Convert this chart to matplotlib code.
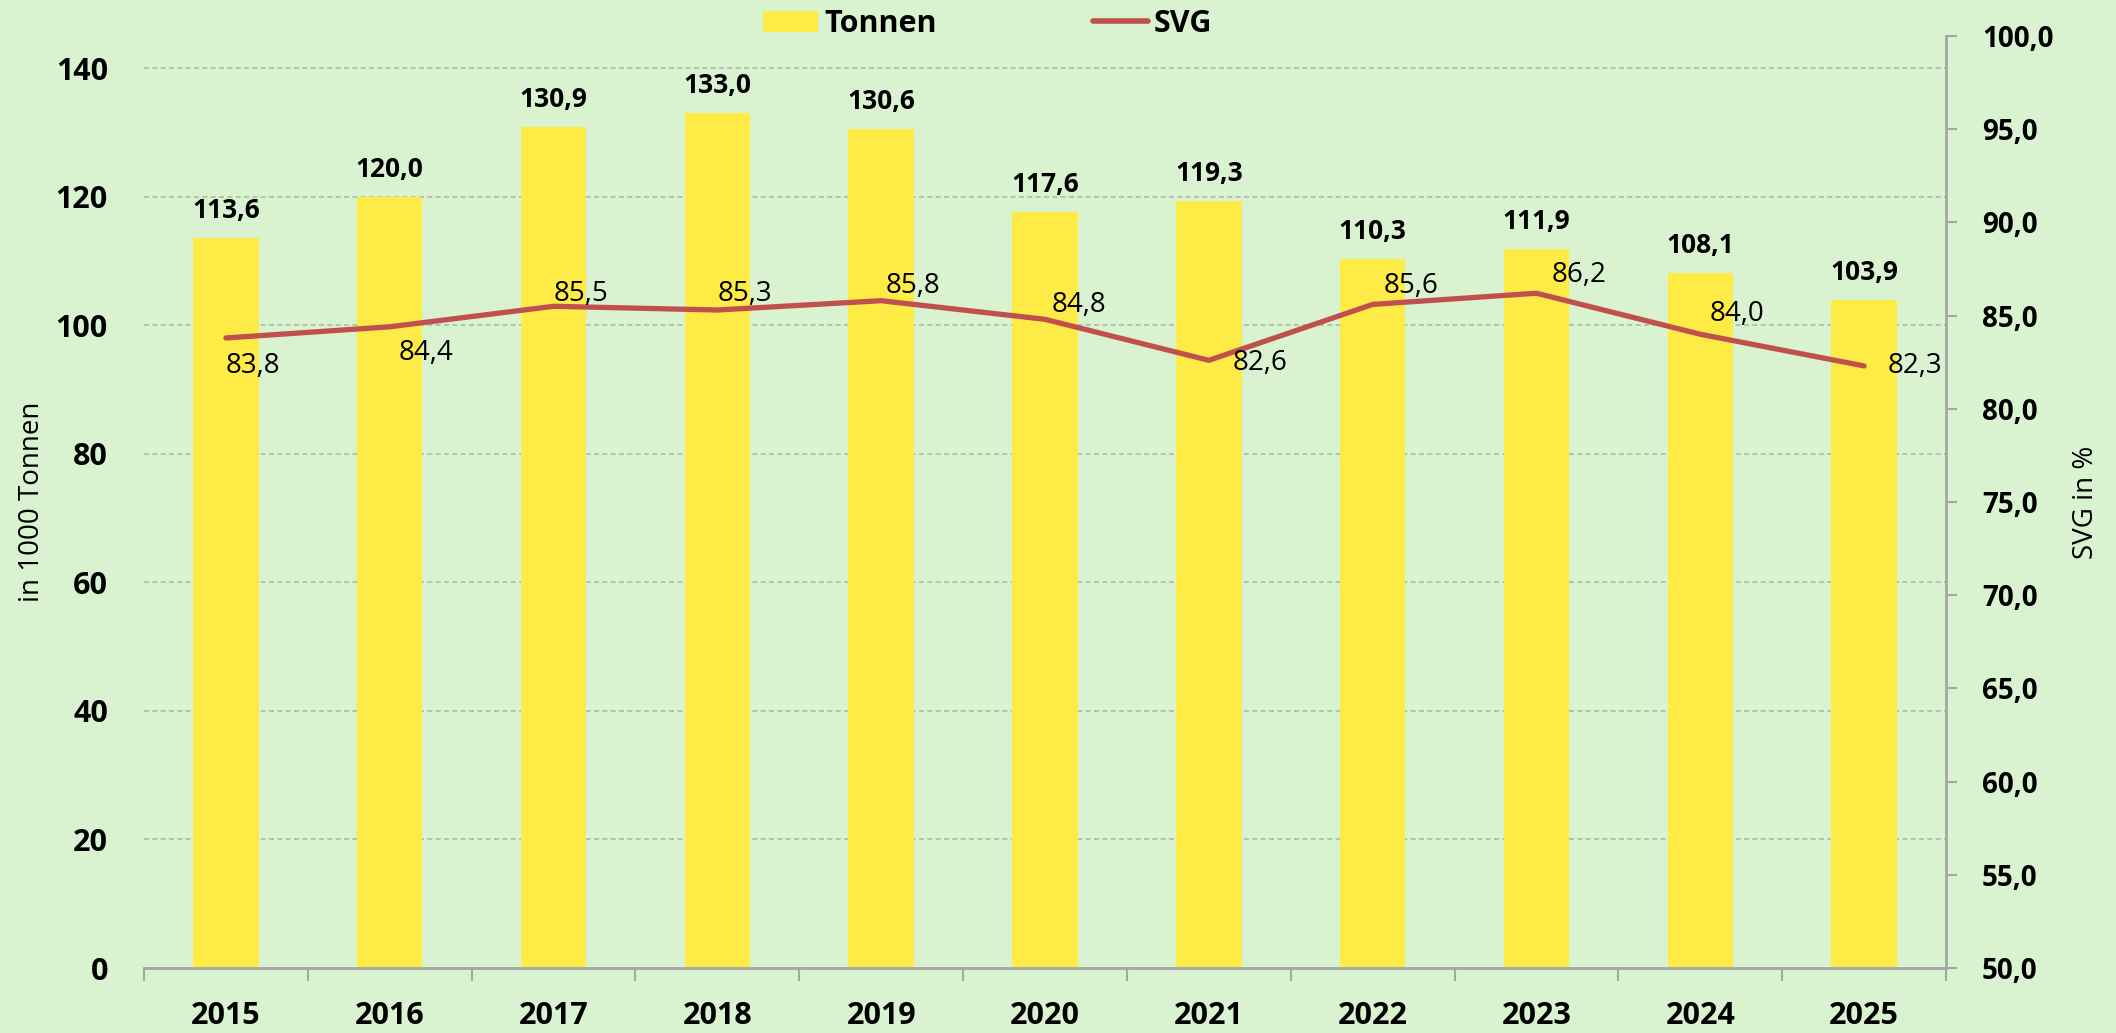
import matplotlib
matplotlib.use("Agg")
import matplotlib.pyplot as plt
from matplotlib.lines import Line2D
from matplotlib.patches import Patch
import numpy as np

plt.rcParams['font.family'] = ['Open Sans', 'DejaVu Sans']

years = ['2015', '2016', '2017', '2018', '2019', '2020', '2021', '2022', '2023', '2024', '2025']
tonnen = [113.6, 120.0, 130.9, 133.0, 130.6, 117.6, 119.3, 110.3, 111.9, 108.1, 103.9]
svg = [83.8, 84.4, 85.5, 85.3, 85.8, 84.8, 82.6, 85.6, 86.2, 84.0, 82.3]
left_ticks = [0, 20, 40, 60, 80, 100, 120, 140]
right_ticks = [50, 55, 60, 65, 70, 75, 80, 85, 90, 95, 100]
# label offsets for the line values (pixels)
svg_offsets = [(0, -28), (9, -26), (0, 12), (0, 16), (4, 15), (7, 14),
               (24, -3), (11, 18), (15, 18), (9, 20), (24, 0)]

def de(v):
    return f"{v:.1f}".replace('.', ',')

BG = '#d9f2d0'
YEL = '#ffeb45'
RED = '#c0504d'
GREY = '#a6a6a6'

fig = plt.figure(figsize=(21.16, 10.33), dpi=100, facecolor=BG)
ax = fig.add_axes([144/2116, 65/1033, (1946-144)/2116, (968-36)/1033])
ax.set_facecolor(BG)
x = np.arange(len(years))

bars = ax.bar(x, tonnen, width=0.40, color=YEL, zorder=2)
for xi, v in zip(x, tonnen):
    ax.annotate(de(v), (xi, v), xytext=(0, 14), textcoords='offset pixels',
                ha='center', va='bottom', fontsize=19, fontweight='bold', zorder=5)

ax.set_xlim(-0.5, len(years) - 0.5)
ax.set_ylim(0, 145)
ax.set_yticks(left_ticks)
ax.set_yticklabels([str(t) for t in left_ticks], fontsize=22, fontweight='bold')
ax.tick_params(axis='y', length=0, pad=26)
ax.yaxis.grid(True, linestyle=(0, (3, 2)), color='#b0b8ad', linewidth=1.2, zorder=0)
ax.set_axisbelow(True)

ax.set_xticks(x)
ax.set_xticklabels(years, fontsize=22, fontweight='bold')
ax.set_xticks(np.arange(-0.5, len(years)), minor=True)
ax.tick_params(axis='x', which='major', length=0, pad=24)
ax.tick_params(axis='x', which='minor', length=9, width=1.5, color=GREY, direction='out')

for s in ['top', 'left', 'right']:
    ax.spines[s].set_visible(False)
ax.spines['bottom'].set_color(GREY)
ax.spines['bottom'].set_linewidth(2)
ax.spines['bottom'].set_zorder(4)

ax.set_ylabel('in 1000 Tonnen', fontsize=20)
ax.yaxis.set_label_coords(-(144 - 46) / (1946 - 144), 0.5)

ax2 = ax.twinx()
ax2.set_ylim(50, 100)
line, = ax2.plot(x, svg, color=RED, linewidth=3.8, solid_capstyle='round', zorder=3)
for xi, v, (dx, dy) in zip(x, svg, svg_offsets):
    ax2.annotate(de(v), (xi, v), xytext=(dx, dy), textcoords='offset pixels',
                 ha='left', va='center', fontsize=20, zorder=5)
ax2.set_yticks(right_ticks)
ax2.set_yticklabels([de(t) for t in right_ticks], fontsize=20, fontweight='bold')
ax2.tick_params(axis='y', length=8, width=1.5, color=GREY, pad=18)
for s in ['top', 'left', 'bottom']:
    ax2.spines[s].set_visible(False)
ax2.spines['right'].set_color(GREY)
ax2.spines['right'].set_linewidth(2)
ax2.set_ylabel('SVG in %', fontsize=20, rotation=90)
ax2.yaxis.set_label_coords((2072 - 144) / (1946 - 144), 0.5)

handles = [Patch(facecolor=YEL, edgecolor='none'),
           Line2D([0], [0], color=RED, linewidth=4, solid_capstyle='round')]
fig.legend(handles, ['Tonnen', 'SVG'], loc='center', bbox_to_anchor=(988/2116, 1 - 24/1033),
           ncol=2, frameon=False, prop={'size': 22, 'weight': 'bold'},
           handlelength=1.8, handletextpad=0.2, columnspacing=5.1)

fig.savefig('out.png', dpi=100, facecolor=BG)
